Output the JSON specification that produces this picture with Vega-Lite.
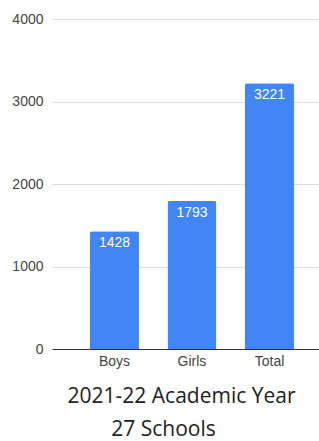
{
  "$schema": "https://vega.github.io/schema/vega-lite/v6.json",
  "width": 267,
  "height": 330,
  "autosize": {"type": "none"},
  "padding": {"left": 52, "top": 19, "right": 0, "bottom": 92},
  "background": "white",
  "data": {"values": [
    {"group": "Boys", "count": 1428},
    {"group": "Girls", "count": 1793},
    {"group": "Total", "count": 3221}
  ]},
  "title": {
    "text": "27 Schools",
    "orient": "bottom",
    "anchor": "middle",
    "frame": "group",
    "dx": -22,
    "offset": 13,
    "font": "Open Sans",
    "fontSize": 21,
    "fontWeight": "normal",
    "color": "#222222"
  },
  "config": {"view": {"stroke": null}},
  "encoding": {
    "x": {
      "field": "group",
      "type": "nominal",
      "sort": null,
      "scale": {"paddingInner": 0.368, "paddingOuter": 0.4065, "align": 0.603},
      "axis": {
        "labelAngle": 0,
        "ticks": false,
        "domainColor": "#333333",
        "labelPadding": 5,
        "labelFont": "Liberation Sans",
        "labelFontSize": 14,
        "labelColor": "#444444",
        "title": "2021-22 Academic Year",
        "titleFont": "Open Sans",
        "titleFontSize": 21,
        "titleFontWeight": "normal",
        "titleColor": "#222222",
        "titleX": 129,
        "titleY": 53,
        "titleBaseline": "alphabetic",
        "titleAlign": "center"
      }
    },
    "y": {
      "field": "count",
      "type": "quantitative",
      "scale": {"domain": [0, 4000]},
      "axis": {
        "values": [0, 1000, 2000, 3000, 4000],
        "format": "d",
        "domain": false,
        "ticks": false,
        "gridColor": "#dcdcdc",
        "labelPadding": 9,
        "labelFont": "Liberation Sans",
        "labelFontSize": 14,
        "labelColor": "#444444",
        "title": null
      }
    }
  },
  "layer": [
    {"mark": {"type": "bar", "color": "#4285F4", "cornerRadiusTopLeft": 2, "cornerRadiusTopRight": 2}},
    {
      "mark": {"type": "text", "baseline": "middle", "dy": 12, "color": "white", "font": "Liberation Sans", "fontSize": 14},
      "encoding": {"text": {"field": "count", "type": "quantitative"}}
    }
  ]
}
